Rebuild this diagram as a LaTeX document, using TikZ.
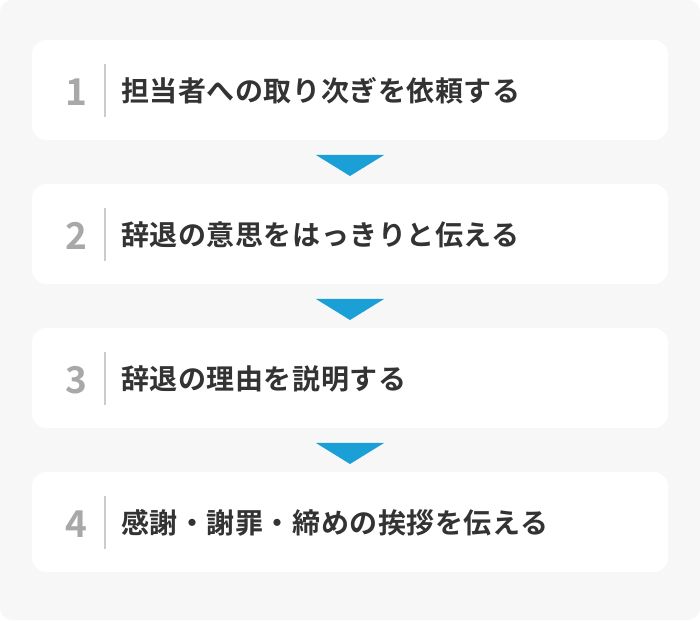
\documentclass[tikz,border=0pt]{standalone}
\usepackage{fontspec}
\newfontfamily\jp{Noto Sans CJK JP}[BoldFont={Noto Sans CJK JP Bold}]
\definecolor{bgc}{HTML}{F7F7F7}
\definecolor{txt}{HTML}{333333}
\definecolor{numc}{HTML}{A8A8A8}
\definecolor{sepc}{HTML}{CCCCCC}
\definecolor{arr}{HTML}{1A9FD6}
\tikzset{
  card/.style={fill=white, rounded corners=14pt, minimum width=636pt, minimum height=100pt, inner sep=0pt},
  num/.style={font=\jp\bfseries\fontsize{37}{37}\selectfont, text=numc, anchor=center, inner sep=0pt},
  lbl/.style={font=\jp\bfseries\fontsize{28}{28}\selectfont, text=txt, anchor=west, inner sep=0pt},
  sep/.style={draw=sepc, line width=1.5pt},
  tri/.style={fill=arr, draw=none}
}
\begin{document}
\begin{tikzpicture}[x=1pt,y=1pt]
\useasboundingbox (0,0) rectangle (700,620);
\fill[bgc, rounded corners=12pt] (0,0) rectangle (700,620);
\foreach \i/\t in {1/担当者への取り次ぎを依頼する,2/辞退の意思をはっきりと伝える,3/辞退の理由を説明する,4/感謝・謝罪・締めの挨拶を伝える}{
  \pgfmathsetmacro{\cy}{620-90-144*(\i-1)}
  \node[card] (c\i) at (350,\cy) {};
  \node[num] (n\i) at (76,\cy-2) {\i};
  \coordinate (s\i a) at (105,\cy+26);
  \coordinate (s\i b) at (105,\cy-27);
  \draw[sep] (s\i a) -- (s\i b);
  \node[lbl] (t\i) at (121,\cy-1) {\addfontfeatures{LetterSpace=2}\t};
}
\foreach \i in {1,2,3}{
  \pgfmathsetmacro{\ty}{620-155-144*(\i-1)}
  \coordinate (ta\i) at (316,\ty);
  \coordinate (tb\i) at (384,\ty);
  \coordinate (tc\i) at (350,\ty-21);
  \fill[tri] (ta\i) -- (tb\i) -- (tc\i) -- cycle;
}
\end{tikzpicture}
\end{document}
